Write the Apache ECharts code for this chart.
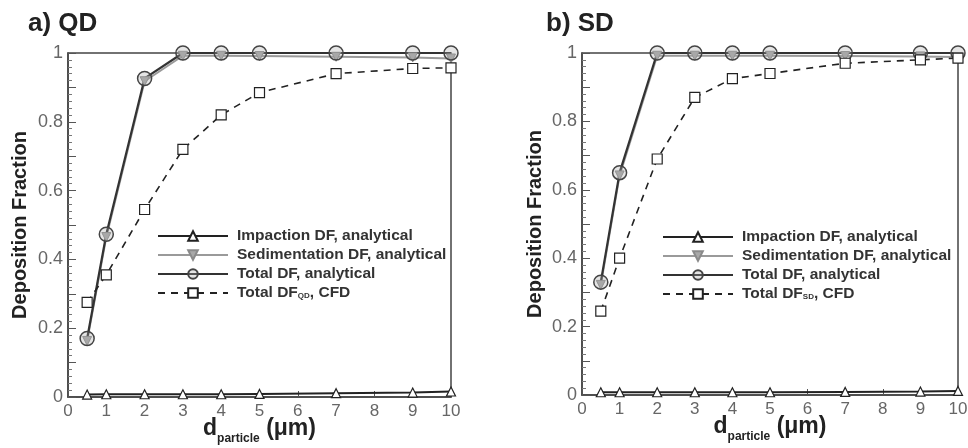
<!DOCTYPE html>
<html>
<head>
<meta charset="utf-8">
<script src="https://cdn.jsdelivr.net/npm/echarts@6/dist/echarts.min.js"></script>
<style>
  html, body { margin: 0; padding: 0; background: #fff; }
  #chart { width: 968px; height: 448px; }
</style>
</head>
<body>
<div id="chart"></div>
<script>
// particle diameters (um)
var xValues = [0.5, 1, 2, 3, 4, 5, 7, 9, 10];

// a) QD
var qdImpaction = [0.007, 0.008, 0.008, 0.008, 0.008, 0.009, 0.011, 0.013, 0.016];
var qdSedimentation = [0.163, 0.465, 0.918, 0.992, 0.992, 0.991, 0.989, 0.987, 0.984];
var qdTotal = [0.17, 0.473, 0.926, 1, 1, 1, 1, 1, 1];
var qdCfd = [0.275, 0.355, 0.545, 0.72, 0.82, 0.885, 0.94, 0.955, 0.957];

// b) SD
var sdImpaction = [0.008, 0.008, 0.008, 0.008, 0.008, 0.008, 0.009, 0.01, 0.012];
var sdSedimentation = [0.322, 0.642, 0.992, 0.992, 0.992, 0.992, 0.991, 0.99, 0.988];
var sdTotal = [0.33, 0.65, 1, 1, 1, 1, 1, 1, 1];
var sdCfd = [0.245, 0.40, 0.69, 0.87, 0.925, 0.94, 0.97, 0.98, 0.985];

var yTicks = ['0', '0.2', '0.4', '0.6', '0.8', '1'];

var panelTitles = ['a) QD', 'b) SD'];
var seriesNames = ['Impaction DF, analytical', 'Sedimentation DF, analytical', 'Total DF, analytical'];
var cfdNames = ['Total DF_QD, CFD', 'Total DF_SD, CFD'];

var chart = echarts.init(document.getElementById('chart'));
var font = '"Liberation Sans", Arial, sans-serif';

var pair = function (ys) {
  return xValues.map(function (x, i) { return [x, ys[i]]; });
};

var makeXAxis = function (idx) {
  return {
    gridIndex: idx,
    type: 'value',
    min: 0, max: 10, interval: 1,
    name: '{d|d}{sub|particle}{d| (\u03bcm)}',
    nameLocation: 'middle',
    nameGap: 20,
    nameMoveOverlap: false,
    nameTextStyle: {
      rich: {
        d: { fontFamily: font, fontWeight: 'bold', fontSize: 23, color: '#222', verticalAlign: 'top' },
        sub: { fontFamily: font, fontWeight: 'bold', fontSize: 12, color: '#222', padding: [16, 0, 0, 0], verticalAlign: 'top' }
      }
    },
    axisLine: { lineStyle: { color: '#444', width: 1.5 } },
    axisTick: { inside: true, length: 6, lineStyle: { color: '#555' } },
    axisLabel: { color: '#666', fontFamily: font, fontSize: 17, margin: 6 },
    splitLine: { show: false }
  };
};

var makeYAxis = function (idx, gap) {
  return {
    gridIndex: idx,
    type: 'value',
    min: 0, max: 1, interval: 0.1,
    name: 'Deposition Fraction',
    nameLocation: 'middle',
    nameGap: gap,
    nameMoveOverlap: false,
    nameTextStyle: { fontFamily: font, fontWeight: 'bold', fontSize: 20, color: '#222' },
    axisLine: { show: true, lineStyle: { color: '#444', width: 1.5 } },
    axisTick: { inside: true, length: 8, lineStyle: { color: '#555' } },
    minorTick: { show: true, splitNumber: 5, length: 4, lineStyle: { color: '#777' } },
    axisLabel: {
      color: '#666', fontFamily: font, fontSize: 18, margin: 5,
      formatter: function (v) {
        var k = Math.round(v * 10);
        return k % 2 === 0 ? yTicks[k / 2] : '';
      }
    },
    splitLine: { show: false }
  };
};

var makeSeries = function (idx, imp, sed, tot, cfd, cfdName) {
  return [{
    name: seriesNames[0], type: 'line', xAxisIndex: idx, yAxisIndex: idx,
    data: pair(imp), symbol: 'triangle', symbolSize: 9,
    lineStyle: { color: '#222', width: 2 },
    itemStyle: { color: '#fff', borderColor: '#222', borderWidth: 1.2 }
  }, {
    name: seriesNames[1], type: 'line', xAxisIndex: idx, yAxisIndex: idx,
    data: pair(sed), symbol: 'triangle', symbolRotate: 180, symbolSize: 9,
    lineStyle: { color: '#9a9a9a', width: 2 },
    itemStyle: { color: '#a8a8a8', borderColor: '#8a8a8a', borderWidth: 1 }
  }, {
    name: seriesNames[2], type: 'line', xAxisIndex: idx, yAxisIndex: idx,
    data: pair(tot), symbol: 'circle', symbolSize: 14,
    lineStyle: { color: '#333', width: 2.2 },
    itemStyle: { color: 'rgba(170,170,170,0.3)', borderColor: '#444', borderWidth: 1.5 }
  }, {
    name: cfdName, type: 'line', xAxisIndex: idx, yAxisIndex: idx,
    data: pair(cfd), symbol: 'rect', symbolSize: 10,
    lineStyle: { color: '#222', width: 1.6, type: [7, 6] },
    itemStyle: { color: '#fff', borderColor: '#222', borderWidth: 1.2 }
  }];
};

var legendFormatter = function (name) {
  var m = name.match(/^(.*DF)_(\w+)(, CFD)$/);
  return m ? m[1] + '{sub|' + m[2] + '}' + m[3] : name;
};

var makeLegend = function (left, top, cfdName) {
  return {
    orient: 'vertical',
    left: left, top: top,
    itemWidth: 70, itemHeight: 12, itemGap: 3,
    data: seriesNames.concat([cfdName]),
    formatter: legendFormatter,
    textStyle: {
      fontFamily: font, fontWeight: 'bold', fontSize: 15.5, color: '#333', padding: [0, 0, 0, 4],
      rich: { sub: { fontFamily: font, fontSize: 8, fontWeight: 'bold', color: '#333', padding: [6, 0, 0, 0] } }
    },
    selectedMode: false
  };
};

var option = {
  animation: false,
  backgroundColor: '#fff',
  title: [
    { text: panelTitles[0], left: 23, top: 6, textStyle: { fontFamily: font, fontWeight: 'bold', fontSize: 26, color: '#222' } },
    { text: panelTitles[1], left: 541, top: 6, textStyle: { fontFamily: font, fontWeight: 'bold', fontSize: 26, color: '#222' } }
  ],
  grid: [
    { left: 68, right: 517, top: 53, bottom: 51, outerBoundsMode: 'none', show: true, borderColor: '#444', borderWidth: 1.5 },
    { left: 582, right: 10, top: 53, bottom: 53, outerBoundsMode: 'none', show: true, borderColor: '#444', borderWidth: 1.5 }
  ],
  legend: [
    makeLegend(152, 223, cfdNames[0]),
    makeLegend(657, 224, cfdNames[1])
  ],
  xAxis: [makeXAxis(0), makeXAxis(1)],
  yAxis: [makeYAxis(0, 38), makeYAxis(1, 37)],
  series: makeSeries(0, qdImpaction, qdSedimentation, qdTotal, qdCfd, cfdNames[0])
    .concat(makeSeries(1, sdImpaction, sdSedimentation, sdTotal, sdCfd, cfdNames[1]))
};

chart.setOption(option);
</script>
</body>
</html>
